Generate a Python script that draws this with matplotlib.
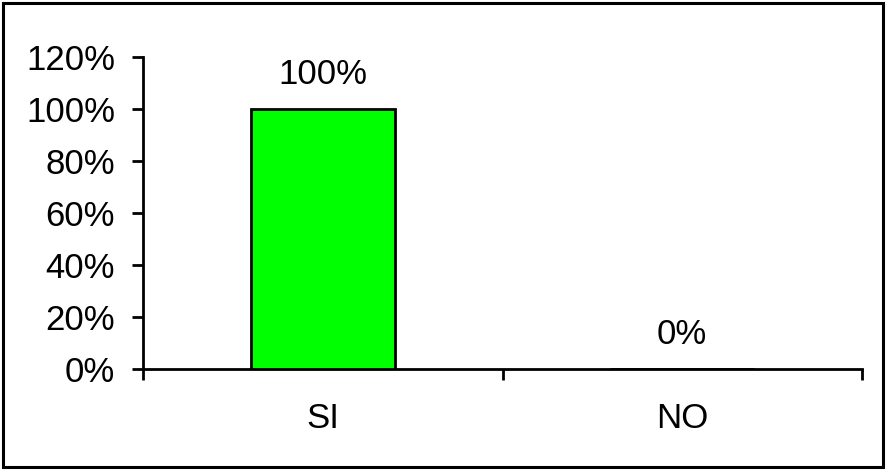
import matplotlib
matplotlib.use("Agg")
import matplotlib.pyplot as plt
from matplotlib.patches import Rectangle
from matplotlib.ticker import PercentFormatter

# Survey answers and their shares
categories = ["SI", "NO"]
shares = [1.00, 0.00]
value_labels = ["100%", "0%"]
y_ticks = [0.0, 0.2, 0.4, 0.6, 0.8, 1.0, 1.2]

plt.rcParams["font.family"] = ["Liberation Sans", "DejaVu Sans"]
FS = 25
LW = 2.0

fig = plt.figure(figsize=(8.86, 4.70), dpi=100)
ax = fig.add_axes([143 / 886, 1 - 369 / 470, (862 - 143) / 886, (369 - 57) / 470])

x = list(range(len(categories)))
bars = ax.bar(x, shares, width=0.4, color="#00FF00", edgecolor="black", linewidth=LW, zorder=3)

for xi, v, lab in zip(x, shares, value_labels):
    ax.annotate(lab, (xi, v), xytext=(0, 13), textcoords="offset points",
                ha="center", va="bottom", fontsize=FS, color="black")

ax.set_xlim(-0.5, len(categories) - 0.5)
ax.set_ylim(0, 1.2)
ax.set_yticks(y_ticks)
ax.yaxis.set_major_formatter(PercentFormatter(1.0, decimals=0))

# category boundaries get the tick marks; names sit centred under each bar
ax.set_xticks([i - 0.5 for i in range(len(categories) + 1)])
ax.set_xticklabels([])
ax.set_xticks(x, minor=True)
ax.set_xticklabels(categories, minor=True, fontsize=FS)
ax.tick_params(axis="x", which="major", direction="out", length=8, width=LW, color="black")
ax.tick_params(axis="x", which="minor", length=0, pad=24)
ax.tick_params(axis="y", direction="out", length=8, width=LW, labelsize=FS, pad=12)

for side in ("top", "right"):
    ax.spines[side].set_visible(False)
for side in ("left", "bottom"):
    ax.spines[side].set_linewidth(LW)
    ax.spines[side].set_color("black")

# outer frame around the whole chart area
fig.patches.append(Rectangle((3 / 886, 3 / 470), 880 / 886, 464 / 470,
                             transform=fig.transFigure, fill=False,
                             edgecolor="black", linewidth=2.2))

fig.savefig("out.png", dpi=100, facecolor="white")
